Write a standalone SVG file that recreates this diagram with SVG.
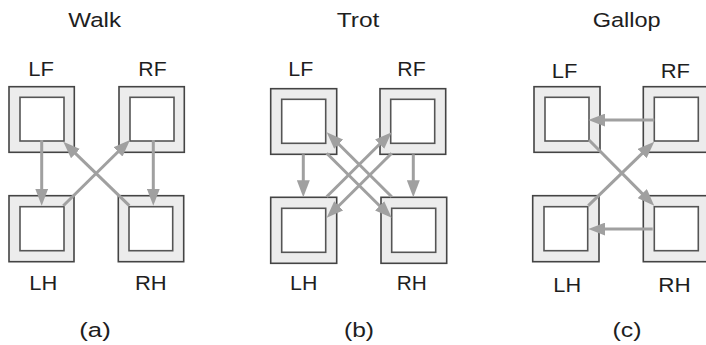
<svg xmlns="http://www.w3.org/2000/svg" width="706" height="345" viewBox="0 0 706 345">
<defs>
<style>
text{font-family:"Liberation Sans",Arial,sans-serif;font-size:20.5px;fill:#1e1e1e;text-anchor:middle}
.outer{fill:#ececec;stroke:#444;stroke-width:1.6}
.inner{fill:#fff;stroke:#555;stroke-width:1.6}
.arr{stroke:#a0a0a0;stroke-width:3;fill:none;marker-end:url(#ah)}
</style>
<marker id="ah" markerUnits="userSpaceOnUse" markerWidth="17" markerHeight="13" refX="7" refY="6.5" orient="auto">
<path d="M0,0 L17,6.5 L0,13 z" fill="#a0a0a0"/>
</marker>
</defs>
<g id="titles">
<text x="94.7" y="27" textLength="52.7" lengthAdjust="spacingAndGlyphs">Walk</text>
<text x="358" y="27" textLength="42.7" lengthAdjust="spacingAndGlyphs">Trot</text>
<text x="626.7" y="27" textLength="68" lengthAdjust="spacingAndGlyphs">Gallop</text>
<text x="95" y="337" textLength="31.4" lengthAdjust="spacingAndGlyphs">(a)</text>
<text x="359" y="337" textLength="30" lengthAdjust="spacingAndGlyphs">(b)</text>
<text x="627" y="337" textLength="29" lengthAdjust="spacingAndGlyphs">(c)</text>
</g>
<!-- Panel a -->
<g id="a-LF"><rect class="outer" x="9" y="86.7" width="65.3" height="65.6"/><rect class="inner" x="20" y="97.3" width="44" height="43.7"/><text x="41.2" y="75.5" textLength="25.7" lengthAdjust="spacingAndGlyphs">LF</text></g>
<g id="a-RF"><rect class="outer" x="119" y="86.7" width="65.3" height="65.6"/><rect class="inner" x="130" y="97.3" width="44" height="43.7"/><text x="152.5" y="75.5" textLength="28.3" lengthAdjust="spacingAndGlyphs">RF</text></g>
<g id="a-LH"><rect class="outer" x="9" y="195.7" width="65" height="66"/><rect class="inner" x="20" y="206.7" width="44" height="44"/><text x="43.3" y="290" textLength="28" lengthAdjust="spacingAndGlyphs">LH</text></g>
<g id="a-RH"><rect class="outer" x="118.3" y="195.7" width="65.4" height="66"/><rect class="inner" x="129" y="206.7" width="43.7" height="44"/><text x="150.8" y="290" textLength="31.7" lengthAdjust="spacingAndGlyphs">RH</text></g>
<!-- Panel b -->
<g id="b-LF"><rect class="outer" x="270.7" y="88.7" width="66" height="65.6"/><rect class="inner" x="281.7" y="99.3" width="44" height="44"/><text x="300.8" y="76" textLength="25" lengthAdjust="spacingAndGlyphs">LF</text></g>
<g id="b-RF"><rect class="outer" x="380" y="88.7" width="65.7" height="65.6"/><rect class="inner" x="390.7" y="99.3" width="44" height="44"/><text x="411.5" y="76" textLength="28.4" lengthAdjust="spacingAndGlyphs">RF</text></g>
<g id="b-LH"><rect class="outer" x="270.7" y="197.3" width="66" height="66"/><rect class="inner" x="281.7" y="208.3" width="44" height="44"/><text x="303.7" y="290" textLength="27.3" lengthAdjust="spacingAndGlyphs">LH</text></g>
<g id="b-RH"><rect class="outer" x="381" y="197.3" width="65.7" height="66"/><rect class="inner" x="391.7" y="208.3" width="44" height="44"/><text x="411.7" y="290" textLength="30" lengthAdjust="spacingAndGlyphs">RH</text></g>
<!-- Panel c -->
<g id="c-LF"><rect class="outer" x="534" y="86.7" width="66" height="65.6"/><rect class="inner" x="545" y="97.3" width="44" height="43.7"/><text x="564.5" y="78" textLength="25.6" lengthAdjust="spacingAndGlyphs">LF</text></g>
<g id="c-RF"><rect class="outer" x="643.3" y="86.7" width="66" height="65.6"/><rect class="inner" x="654.3" y="97.3" width="44" height="43.7"/><text x="675.3" y="78" textLength="29.3" lengthAdjust="spacingAndGlyphs">RF</text></g>
<g id="c-LH"><rect class="outer" x="532.7" y="195.7" width="66.3" height="66"/><rect class="inner" x="544" y="206.7" width="43.7" height="44"/><text x="567.2" y="292" textLength="27.7" lengthAdjust="spacingAndGlyphs">LH</text></g>
<g id="c-RH"><rect class="outer" x="643.3" y="195.7" width="66" height="66"/><rect class="inner" x="654.3" y="206.7" width="44" height="44"/><text x="674.5" y="292" textLength="32.4" lengthAdjust="spacingAndGlyphs">RH</text></g>
<g id="connectors">
<line class="arr" x1="41.7" y1="140" x2="41.7" y2="195.7"/>
<line class="arr" x1="153.3" y1="140" x2="153.3" y2="195.7"/>
<line class="arr" x1="63.3" y1="205.7" x2="122.9" y2="147"/>
<line class="arr" x1="129.3" y1="205.7" x2="70.5" y2="148.7"/>
<line class="arr" x1="303.3" y1="154.3" x2="303.3" y2="187.3"/>
<line class="arr" x1="413.3" y1="154.3" x2="413.3" y2="187.3"/>
<line class="arr" x1="326.7" y1="196.7" x2="384.6" y2="139.3"/>
<line class="arr" x1="391.7" y1="153.3" x2="333.8" y2="210.7"/>
<line class="arr" x1="326.7" y1="153.3" x2="384.6" y2="210.7"/>
<line class="arr" x1="391.7" y1="196.7" x2="333.8" y2="139.3"/>
<line class="arr" x1="654.3" y1="120" x2="598.3" y2="120"/>
<line class="arr" x1="652.7" y1="229" x2="598.3" y2="229"/>
<line class="arr" x1="588.3" y1="205.7" x2="647.1" y2="148.7"/>
<line class="arr" x1="589" y1="140" x2="647.2" y2="198.6"/>
</g>
</svg>
